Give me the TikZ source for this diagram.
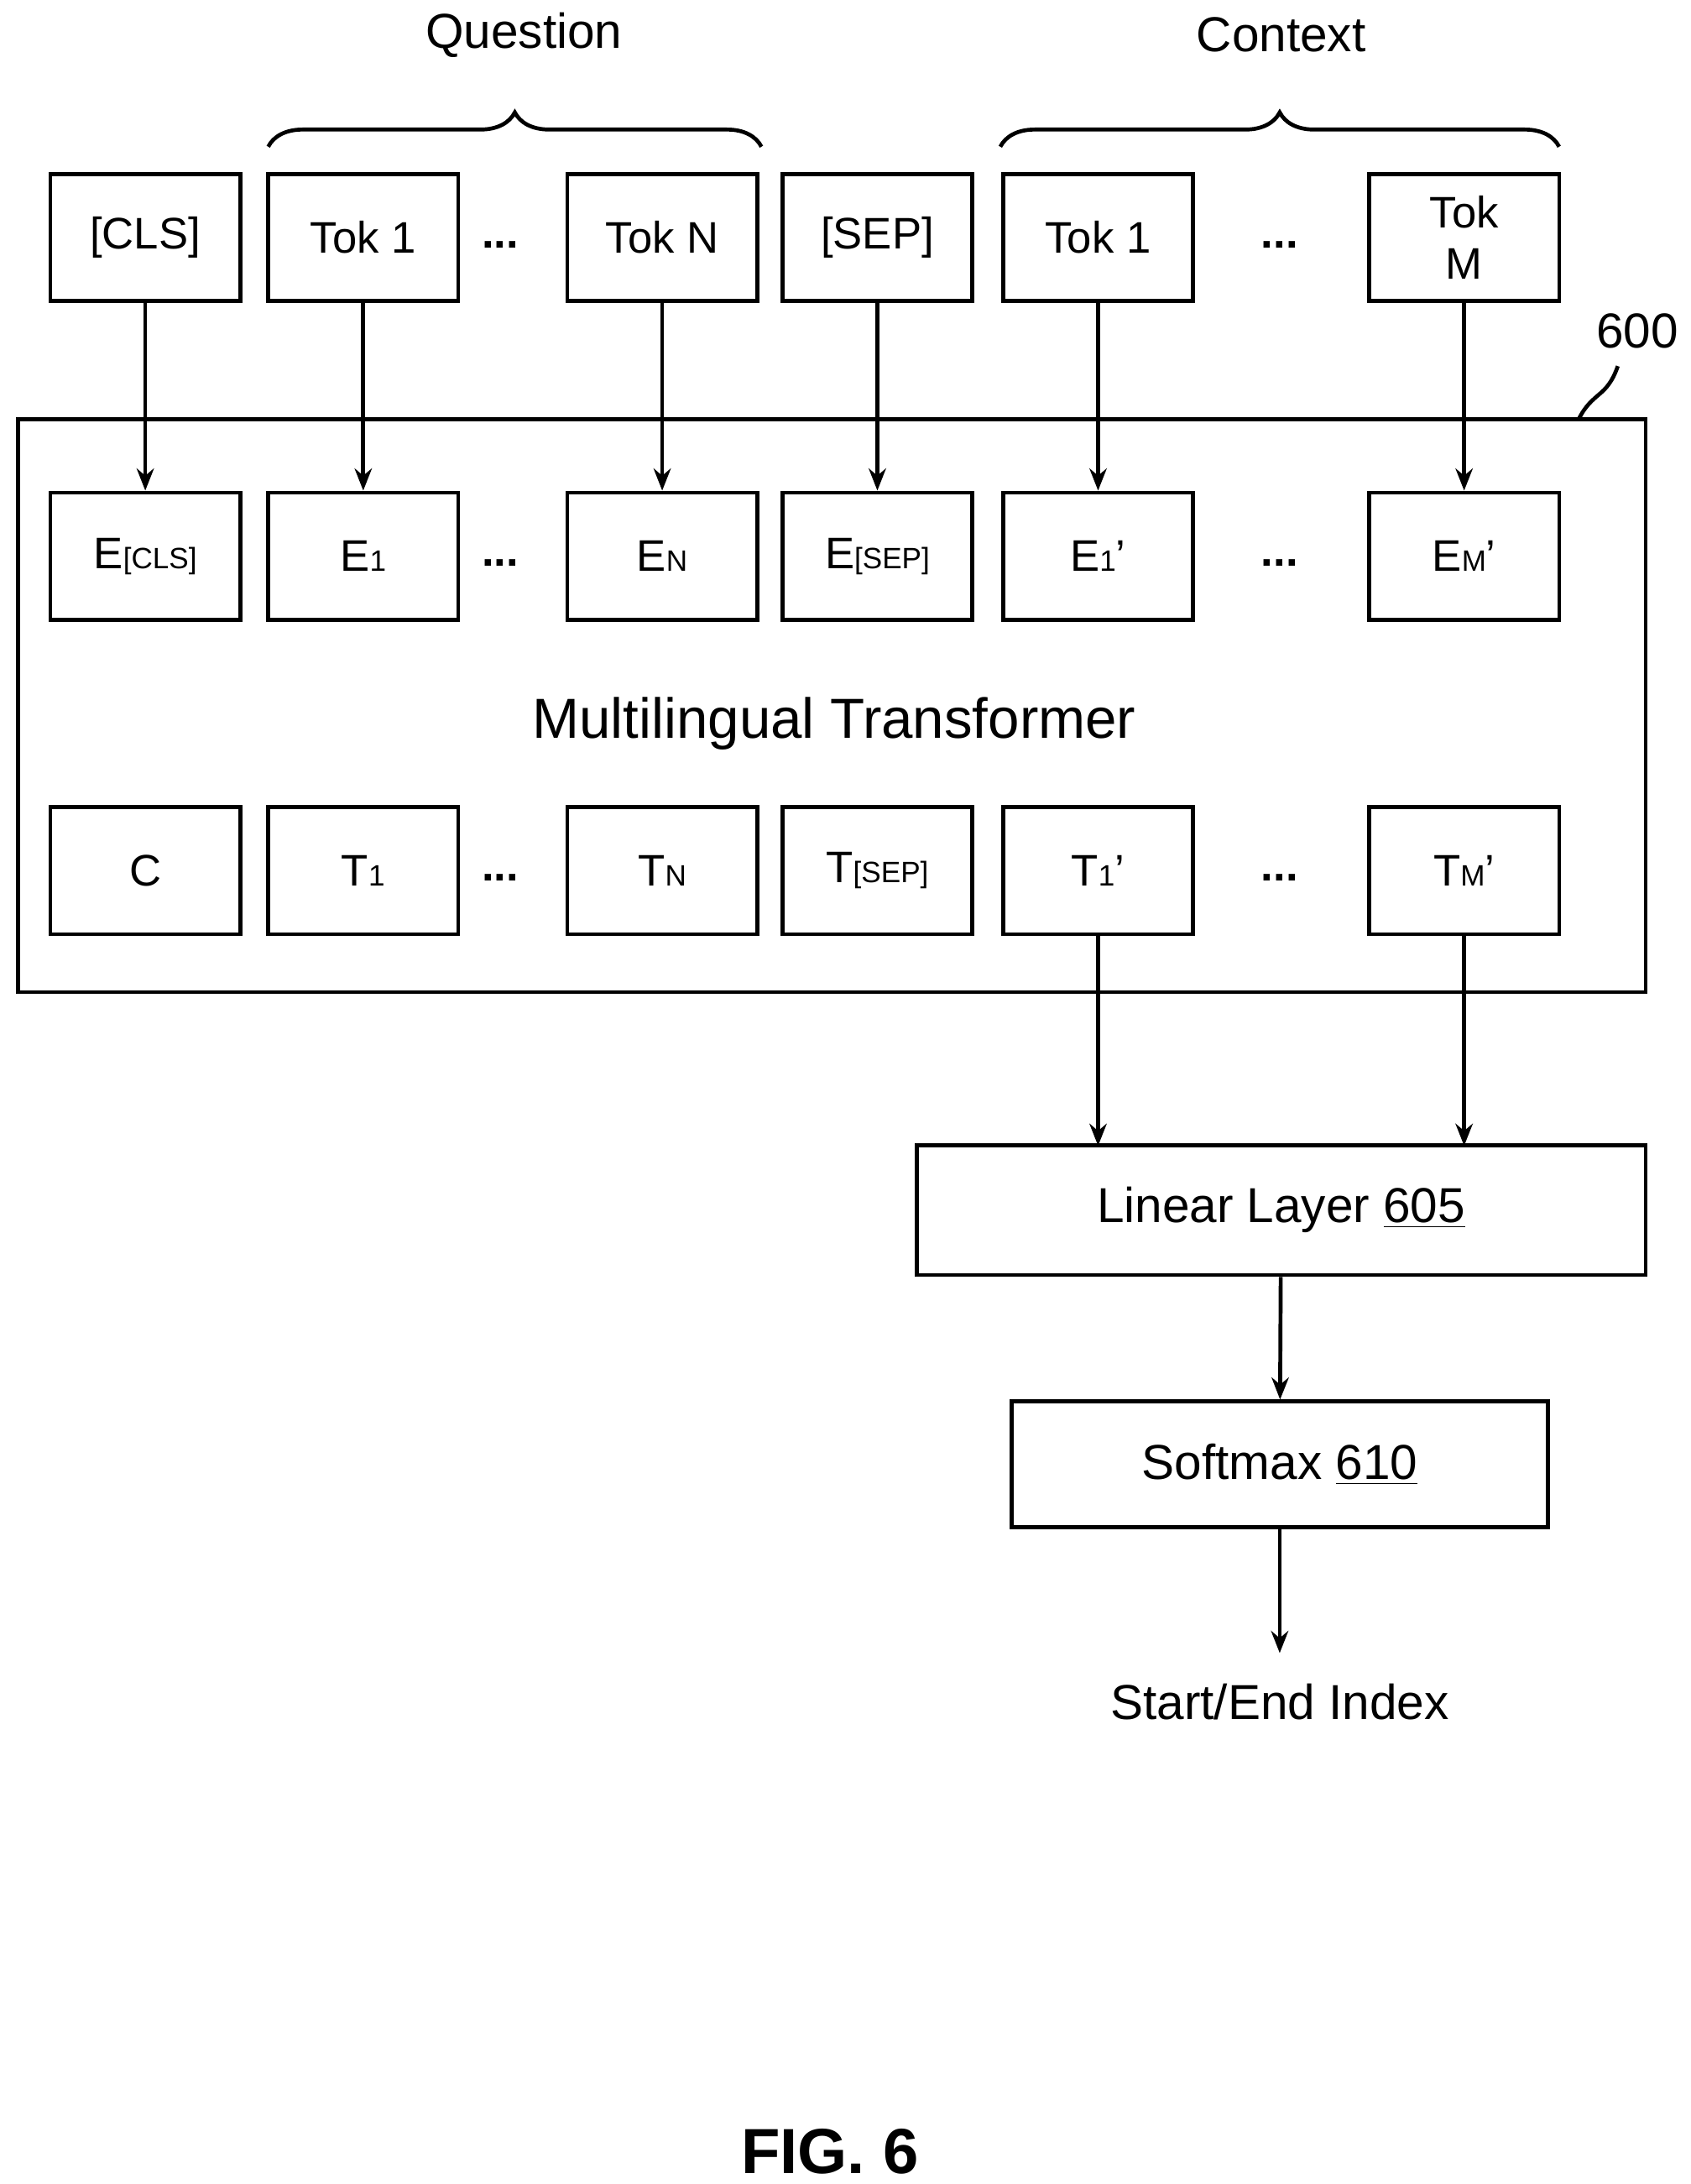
\documentclass[tikz,border=0pt]{standalone}
\usepackage{fontspec}
\setmainfont{Liberation Sans}
\usetikzlibrary{positioning,decorations.pathreplacing,arrows.meta}
\newcommand{\lowsub}[1]{{\fontsize{12}{12}\selectfont #1}}
\tikzset{
  tok/.style={draw, line width=1.6pt, minimum width=2.72cm, minimum height=1.82cm, inner sep=1pt, align=center},
  arr/.style={-{Stealth[length=9pt,width=7pt]}, line width=1.6pt},
  brace/.style={decorate, decoration={brace, amplitude=14pt}, line width=1.6pt}
}
\begin{document}
\begin{tikzpicture}[x=0.02cm, y=-0.02cm, font=\fontsize{18}{21}\selectfont]
\useasboundingbox (0,0) rectangle (1210,1563);

% input tokens
\node[tok] (cls)  at (104,170) {[CLS]};
\node[tok] (q1)   at (260,170) {Tok 1};
\node[tok] (qn)   at (474,170) {Tok N};
\node[tok] (sep)  at (628,170) {[SEP]};
\node[tok] (c1)   at (786,170) {Tok 1};
\node[tok] (cm)   at (1048,170) {Tok\\M};
\node at (358,175) {\textbf{...}};
\node at (916,175) {\textbf{...}};

% braces
\draw[brace] (192,105) -- (545,105);
\draw[brace] (716,105) -- (1116,105);
\node (question) at (375,25) {\fontsize{20}{22}\selectfont Question};
\node (context) at (917,25) {\fontsize{20}{22}\selectfont Context};

% transformer
\draw[line width=1.6pt] (13,300) rectangle (1178,710);
\node (mt) at (597,518) {\fontsize{23}{26}\selectfont Multilingual Transformer};
\node (lbl) at (1172,237) {\fontsize{20}{22}\selectfont 600};
\draw[line width=1.6pt] (1130,300) .. controls (1140,280) and (1150,285) .. (1158,262);

\node[tok] (ecls) at (104,398) {E\lowsub{[CLS]}};
\node[tok] (e1)   at (260,398) {E\lowsub{1}};
\node[tok] (en)   at (474,398) {E\lowsub{N}};
\node[tok] (esep) at (628,398) {E\lowsub{[SEP]}};
\node[tok] (ec1)  at (786,398) {E\lowsub{1}'};
\node[tok] (ecm)  at (1048,398) {E\lowsub{M}'};
\node at (358,403) {\textbf{...}};
\node at (916,403) {\textbf{...}};

\node[tok] (tc)   at (104,623) {C};
\node[tok] (t1)   at (260,623) {T\lowsub{1}};
\node[tok] (tn)   at (474,623) {T\lowsub{N}};
\node[tok] (tsep) at (628,623) {T\lowsub{[SEP]}};
\node[tok] (tc1)  at (786,623) {T\lowsub{1}'};
\node[tok] (tcm)  at (1048,623) {T\lowsub{M}'};
\node at (358,628) {\textbf{...}};
\node at (916,628) {\textbf{...}};

\foreach \a/\b in {cls/ecls, q1/e1, qn/en, sep/esep, c1/ec1, cm/ecm}
  \draw[arr] (\a) -- (\b);

% output head
\node[tok, minimum width=10.44cm, minimum height=1.86cm] (lin) at (917,866) {\fontsize{20}{22}\selectfont Linear Layer \underline{605}};
\node[tok, minimum width=7.68cm, minimum height=1.8cm] (soft) at (916,1048) {\fontsize{20}{22}\selectfont Softmax \underline{610}};
\node (idx) at (916,1218) {\fontsize{20}{22}\selectfont Start/End Index};
\coordinate (lin1) at (786,820);
\coordinate (linm) at (1048,820);
\coordinate (idxtop) at (916,1183);
\draw[arr] (tc1) -- (lin1);
\draw[arr] (tcm) -- (linm);
\draw[arr] (lin) -- (soft);
\draw[arr] (soft) -- (idxtop);

\node (fig) at (594,1540) {\fontsize{26}{28}\selectfont\bfseries FIG. 6};
\end{tikzpicture}
\end{document}
